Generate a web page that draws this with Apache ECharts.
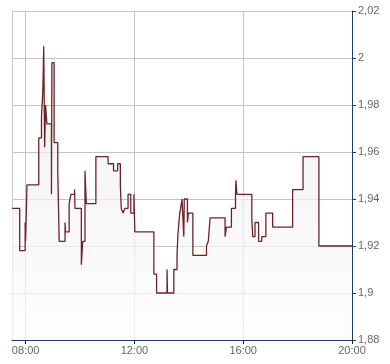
<!DOCTYPE html>
<html><head><meta charset="utf-8">
<script src="https://cdn.jsdelivr.net/npm/echarts@6/dist/echarts.min.js"></script>
<style>html,body{margin:0;padding:0;background:#fff}#c{width:390px;height:364px}</style>
</head><body><div id="c"></div>
<script>
const times = ['07:30','07:47','07:59','08:00','08:03','08:29','08:35','08:38','08:40','08:42','08:44','08:47','08:57','08:58','09:03','09:11','09:14','09:27','09:28','09:36','09:40','09:48','09:49','10:03','10:06','10:11','10:14','10:35','11:02','11:14','11:23','11:29','11:31','11:35','11:39','11:46','11:52','11:59','12:01','12:43','12:49','13:12','13:13','13:27','13:34','13:36','13:40','13:42','13:45','13:49','13:50','13:57','13:59','14:09','14:39','14:43','14:47','15:20','15:23','15:34','15:43','15:44','15:46','16:19','16:21','16:26','16:34','16:41','16:50','17:05','17:49','18:12','18:47','20:00'];
const prices = [1.936,1.918,1.930,1.922,1.946,1.966,1.975,1.986,2.005,1.962,1.980,1.972,1.942,1.998,1.964,1.952,1.922,1.930,1.926,1.938,1.942,1.944,1.936,1.912,1.922,1.952,1.938,1.958,1.955,1.952,1.955,1.946,1.936,1.934,1.936,1.942,1.934,1.942,1.926,1.908,1.900,1.910,1.900,1.910,1.916,1.925,1.934,1.936,1.940,1.924,1.940,1.930,1.934,1.916,1.920,1.922,1.932,1.924,1.928,1.936,1.942,1.948,1.942,1.932,1.924,1.930,1.922,1.924,1.934,1.928,1.944,1.958,1.920,1.920];
const xStart = '07:30';
const xEnd = '20:00';
const xTickLabels = ['08:00','12:00','16:00','20:00'];
const yMin = 1.88;
const yMax = 2.02;
const yStep = 0.02;

function toMin(s){ const p = s.split(':').map(Number); return p[0]*60 + p[1]; }
function fmtTime(v){ const h = Math.floor(v/60), m = v%60; return String(h).padStart(2,'0') + ':' + String(m).padStart(2,'0'); }
// one category per minute of the session
const categories = [];
for (let m = toMin(xStart); m <= toMin(xEnd); m++) categories.push(fmtTime(m));
const data = times.map((t,i) => [t, prices[i]]);
const showTick = (idx, val) => xTickLabels.indexOf(val) >= 0;
const showGrid = (idx, val) => idx === 0 || xTickLabels.indexOf(val) >= 0;
const navy = '#1d3b6e';
const grid = '#c4c4c4';
const chart = echarts.init(document.getElementById('c'), null, {renderer:'canvas'});
chart.setOption({
  animation:false,
  backgroundColor:'#ffffff',
  grid:{left:12, right:38, top:11, bottom:24, containLabel:false, outerBoundsMode:'none'},
  xAxis:{
    type:'category', data:categories, boundaryGap:false,
    axisLine:{show:true, lineStyle:{color:navy, width:1}},
    axisTick:{show:true, length:4, interval:showTick, lineStyle:{color:'#222'}},
    axisLabel:{interval:showTick, color:'#666', fontSize:11, fontFamily:'Liberation Sans, Arial, sans-serif', margin:5},
    splitLine:{show:true, interval:showGrid, lineStyle:{color:grid, width:1}}
  },
  yAxis:{
    type:'value', position:'right', min:yMin, max:yMax, interval:yStep, scale:true,
    axisLine:{show:true, lineStyle:{color:navy, width:1}},
    axisTick:{show:true, length:4, lineStyle:{color:navy}},
    axisLabel:{color:'#666', fontSize:11, fontFamily:'Liberation Sans, Arial, sans-serif', margin:6,
      formatter:v => String(Number(v.toFixed(2))).replace('.', ',')},
    splitLine:{show:true, lineStyle:{color:grid, width:1}}
  },
  series:[{
    type:'line', step:'end', data:data, symbol:'none',
    lineStyle:{color:'#6b2329', width:1.3},
    areaStyle:{origin:'start', color:new echarts.graphic.LinearGradient(0,0,0,1,[{offset:0,color:'#eaeaea'},{offset:1,color:'#fdfdfd'}])}
  }]
});
</script>
</body></html>
